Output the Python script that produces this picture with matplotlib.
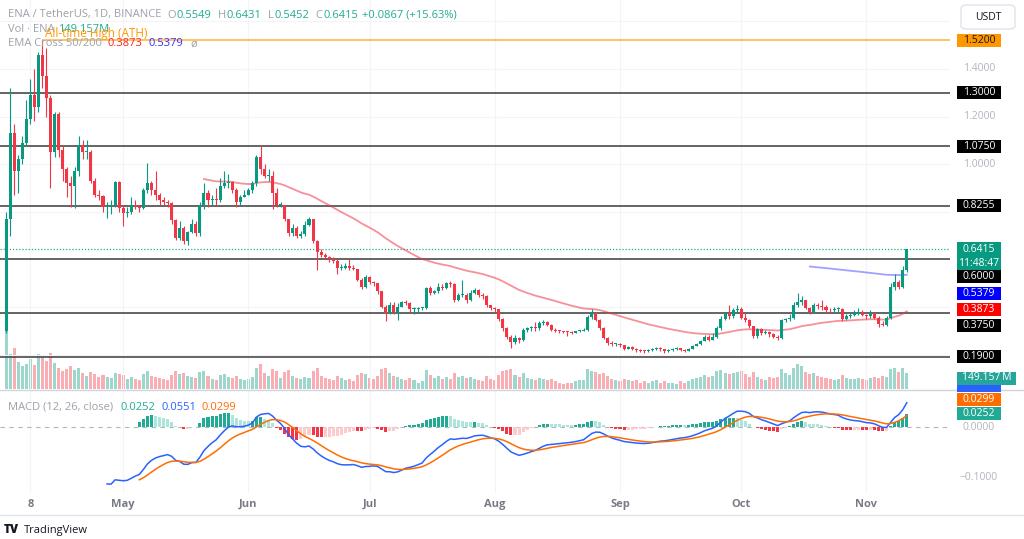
import numpy as np
import pandas as pd
import matplotlib
matplotlib.use("Agg")
import matplotlib.pyplot as plt
from matplotlib.patches import Rectangle, FancyBboxPatch
from matplotlib.lines import Line2D

plt.rcParams['font.family'] = ['Open Sans', 'DejaVu Sans']

# ---- data (ENA/USDT daily) ----
start_date = "2024-04-02"
first_open = 0.30
closes = [
    0.77, 1.13, 0.97, 1.02, 1.09, 1.19, 1.29, 1.24, 1.46, 1.37,
    1.28, 1.05, 1.21, 1.06, 0.98, 0.92, 0.91, 0.97, 1.08, 1.05,
    1.05, 0.93, 0.87, 0.865, 0.82, 0.825, 0.83, 0.925, 0.815, 0.795,
    0.80, 0.83, 0.825, 0.815, 0.89, 0.92, 0.89, 0.87, 0.85, 0.84,
    0.835, 0.765, 0.69, 0.73, 0.675, 0.715, 0.75, 0.71, 0.83, 0.88,
    0.85, 0.855, 0.85, 0.91, 0.92, 0.925, 0.89, 0.84, 0.86, 0.87,
    0.89, 0.92, 1.03, 0.98, 0.95, 0.95, 0.88, 0.83, 0.83, 0.77,
    0.71, 0.73, 0.70, 0.705, 0.745, 0.77, 0.675, 0.63, 0.62, 0.61,
    0.60, 0.595, 0.565, 0.565, 0.57, 0.565, 0.56, 0.515, 0.485, 0.525,
    0.505, 0.50, 0.465, 0.40, 0.375, 0.41, 0.38, 0.40, 0.42, 0.415,
    0.39, 0.39, 0.395, 0.395, 0.48, 0.46, 0.465, 0.485, 0.48, 0.50,
    0.495, 0.43, 0.45, 0.45, 0.43, 0.46, 0.47, 0.45, 0.445, 0.41,
    0.395, 0.39, 0.35, 0.31, 0.275, 0.253, 0.27, 0.26, 0.305, 0.31,
    0.315, 0.31, 0.333, 0.338, 0.325, 0.305, 0.30, 0.298, 0.296, 0.294,
    0.292, 0.297, 0.30, 0.305, 0.358, 0.375, 0.345, 0.312, 0.27, 0.248,
    0.243, 0.244, 0.238, 0.225, 0.232, 0.225, 0.218, 0.215, 0.213, 0.218,
    0.224, 0.228, 0.222, 0.215, 0.22, 0.223, 0.226, 0.22, 0.216, 0.225,
    0.236, 0.245, 0.258, 0.272, 0.263, 0.272, 0.31, 0.35, 0.37, 0.36,
    0.385, 0.392, 0.355, 0.345, 0.318, 0.276, 0.306, 0.29, 0.295, 0.285,
    0.275, 0.27, 0.345, 0.348, 0.353, 0.41, 0.42, 0.428, 0.395, 0.378,
    0.41, 0.405, 0.398, 0.386, 0.385, 0.39, 0.392, 0.35, 0.36, 0.365,
    0.372, 0.378, 0.366, 0.36, 0.373, 0.355, 0.328, 0.325, 0.353, 0.485,
    0.505, 0.485, 0.5549, 0.6415,
]
highs = [
    0.80, 1.32, 1.17, 1.04, 1.12, 1.27, 1.36, 1.40, 1.47, 1.52,
    1.49, 1.29, 1.22, 1.22, 1.08, 0.99, 0.95, 0.99, 1.12, 1.10,
    1.10, 1.06, 0.94, 0.89, 0.87, 0.84, 0.85, 0.93, 0.93, 0.83,
    0.82, 0.86, 0.85, 0.83, 0.90, 1.005, 0.93, 0.97, 0.88, 0.86,
    0.85, 0.84, 0.77, 0.76, 0.74, 0.72, 0.77, 0.76, 0.84, 0.92,
    0.89, 0.87, 0.90, 0.94, 0.97, 0.96, 0.93, 0.90, 0.87, 0.89,
    0.90, 0.93, 1.04, 1.08, 1.00, 0.98, 0.97, 0.90, 0.84, 0.83,
    0.77, 0.75, 0.74, 0.72, 0.76, 0.78, 0.77, 0.68, 0.645, 0.625,
    0.615, 0.61, 0.60, 0.58, 0.585, 0.60, 0.575, 0.56, 0.52, 0.535,
    0.53, 0.51, 0.50, 0.465, 0.41, 0.42, 0.42, 0.415, 0.425, 0.43,
    0.42, 0.40, 0.40, 0.40, 0.485, 0.49, 0.47, 0.50, 0.495, 0.505,
    0.51, 0.50, 0.46, 0.515, 0.46, 0.47, 0.48, 0.475, 0.46, 0.45,
    0.41, 0.40, 0.39, 0.355, 0.315, 0.28, 0.28, 0.275, 0.31, 0.315,
    0.32, 0.335, 0.34, 0.345, 0.34, 0.33, 0.31, 0.305, 0.30, 0.30,
    0.30, 0.30, 0.305, 0.31, 0.365, 0.39, 0.38, 0.35, 0.315, 0.275,
    0.255, 0.25, 0.25, 0.24, 0.235, 0.235, 0.228, 0.222, 0.22, 0.222,
    0.228, 0.232, 0.232, 0.225, 0.224, 0.228, 0.23, 0.228, 0.222, 0.228,
    0.24, 0.25, 0.262, 0.28, 0.28, 0.29, 0.32, 0.36, 0.38, 0.41,
    0.395, 0.41, 0.40, 0.375, 0.35, 0.32, 0.31, 0.31, 0.305, 0.30,
    0.29, 0.28, 0.35, 0.355, 0.37, 0.42, 0.46, 0.445, 0.43, 0.40,
    0.415, 0.415, 0.43, 0.41, 0.395, 0.40, 0.40, 0.395, 0.37, 0.38,
    0.385, 0.395, 0.385, 0.37, 0.385, 0.375, 0.36, 0.34, 0.36, 0.50,
    0.54, 0.515, 0.57, 0.6431,
]
lows = [
    0.29, 0.70, 0.87, 0.88, 1.00, 1.08, 1.17, 1.18, 1.22, 1.32,
    1.20, 0.90, 1.03, 1.03, 0.93, 0.86, 0.82, 0.815, 0.95, 1.02,
    1.02, 0.92, 0.86, 0.85, 0.80, 0.774, 0.79, 0.82, 0.80, 0.74,
    0.78, 0.79, 0.81, 0.80, 0.81, 0.88, 0.87, 0.85, 0.83, 0.83,
    0.82, 0.75, 0.68, 0.68, 0.665, 0.66, 0.71, 0.70, 0.70, 0.81,
    0.82, 0.83, 0.83, 0.84, 0.90, 0.90, 0.88, 0.82, 0.83, 0.86,
    0.87, 0.88, 0.91, 0.96, 0.94, 0.93, 0.81, 0.82, 0.82, 0.76,
    0.70, 0.70, 0.69, 0.69, 0.70, 0.74, 0.67, 0.555, 0.61, 0.60,
    0.59, 0.585, 0.54, 0.555, 0.56, 0.555, 0.555, 0.51, 0.475, 0.48,
    0.495, 0.49, 0.455, 0.395, 0.34, 0.37, 0.37, 0.345, 0.40, 0.41,
    0.38, 0.37, 0.38, 0.385, 0.39, 0.45, 0.455, 0.46, 0.47, 0.475,
    0.485, 0.42, 0.425, 0.44, 0.415, 0.425, 0.455, 0.44, 0.435, 0.40,
    0.385, 0.38, 0.34, 0.30, 0.265, 0.228, 0.245, 0.25, 0.255, 0.295,
    0.30, 0.30, 0.305, 0.325, 0.32, 0.30, 0.295, 0.29, 0.29, 0.278,
    0.286, 0.29, 0.295, 0.30, 0.30, 0.35, 0.34, 0.305, 0.265, 0.24,
    0.236, 0.236, 0.232, 0.22, 0.222, 0.22, 0.212, 0.21, 0.205, 0.21,
    0.215, 0.22, 0.215, 0.208, 0.21, 0.215, 0.218, 0.215, 0.21, 0.213,
    0.222, 0.235, 0.24, 0.255, 0.258, 0.26, 0.268, 0.305, 0.345, 0.35,
    0.355, 0.375, 0.35, 0.335, 0.31, 0.27, 0.27, 0.28, 0.285, 0.275,
    0.268, 0.262, 0.265, 0.335, 0.34, 0.35, 0.40, 0.41, 0.39, 0.37,
    0.375, 0.39, 0.385, 0.375, 0.375, 0.375, 0.38, 0.34, 0.345, 0.355,
    0.36, 0.365, 0.36, 0.35, 0.355, 0.35, 0.315, 0.318, 0.32, 0.35,
    0.47, 0.475, 0.48, 0.5452,
]
volumes_m = [
    780, 330, 380, 250, 210, 230, 280, 220, 330, 300,
    260, 340, 240, 200, 170, 190, 210, 180, 200, 150,
    120, 160, 140, 110, 130, 110, 100, 150, 140, 130,
    90, 110, 90, 80, 140, 170, 120, 110, 100, 90,
    80, 130, 170, 140, 150, 120, 110, 100, 160, 170,
    120, 90, 80, 130, 140, 110, 100, 120, 90, 80,
    90, 110, 200, 230, 150, 120, 190, 170, 100, 160,
    180, 120, 100, 90, 110, 100, 170, 200, 120, 100,
    90, 80, 120, 100, 80, 90, 70, 130, 150, 140,
    100, 90, 120, 190, 200, 150, 120, 110, 90, 80,
    100, 80, 60, 70, 180, 130, 100, 120, 90, 110,
    90, 150, 110, 120, 100, 110, 90, 80, 70, 120,
    90, 80, 130, 170, 180, 190, 130, 110, 150, 100,
    90, 80, 100, 90, 80, 90, 70, 60, 50, 60,
    60, 70, 80, 80, 190, 170, 160, 140, 150, 120,
    90, 80, 70, 90, 80, 70, 80, 60, 70, 60,
    70, 80, 60, 70, 60, 60, 50, 70, 60, 70,
    90, 100, 110, 130, 110, 120, 170, 180, 150, 140,
    150, 160, 170, 140, 110, 160, 110, 90, 80, 110,
    100, 110, 190, 150, 130, 200, 230, 210, 160, 140,
    150, 120, 110, 100, 90, 80, 90, 130, 100, 90,
    90, 100, 90, 80, 100, 110, 100, 120, 110, 190,
    200, 160, 200, 149.157,
]
levels = [1.30, 1.075, 0.8255, 0.60, 0.375, 0.19]
ath = 1.52
last_price = 0.6415

closes = np.array(closes)
opens = np.r_[first_open, closes[:-1]]
highs = np.maximum(np.array(highs), np.maximum(opens, closes))
lows = np.minimum(np.array(lows), np.minimum(opens, closes))
vols = np.array(volumes_m)
n = len(closes)
x = np.arange(n)
dates = pd.date_range(start_date, periods=n, freq="D")


def tv_ema(src, length):
    src = np.asarray(src, float)
    out = np.full(len(src), np.nan)
    first = np.where(~np.isnan(src))[0][0]
    seed = first + length - 1
    if seed >= len(src):
        return out
    out[seed] = src[first:seed + 1].mean()
    a = 2 / (length + 1)
    for k in range(seed + 1, len(src)):
        out[k] = a * src[k] + (1 - a) * out[k - 1]
    return out


ema50 = tv_ema(closes, 50)
ema200 = tv_ema(closes, 200)
macd = tv_ema(closes, 12) - tv_ema(closes, 26)
signal = tv_ema(macd, 9)
hist = macd - signal

# ---- colours ----
UP, DN = "#089981", "#f23645"
TEAL = "#22ab94"
GRAY_TXT = "#9ea1aa"
AXIS_TXT = "#b2b5be"
GRID = "#f2f4f8"

W, H = 1024, 539
fig = plt.figure(figsize=(W / 100, H / 100), dpi=100, facecolor="white")


def fx(px):
    return px / W


def fy(py):
    return 1 - py / H


ax = fig.add_axes([0, fy(389), fx(950), 389 / H])
axv = ax.twinx()
axm = fig.add_axes([0, fy(493), fx(950), (493 - 390) / H])

xlim = (-1.5, 233.7)
for a in (ax, axv, axm):
    a.set_xlim(*xlim)
    for s in a.spines.values():
        s.set_visible(False)
    a.set_yticks([])
ax.set_xticks([])
axv.set_xticks([])
ax.set_ylim(0.055, 1.69)
axv.set_ylim(0, 149.157 / 16 * 389)
axm.set_ylim(-0.132, 0.074)
ax.set_zorder(2)
axv.set_zorder(1)
ax.patch.set_visible(False)

# month ticks
tick_idx = [i for i, d in enumerate(dates) if d.day == 1 or (d.month == 4 and d.day == 8)]
tick_lab = ["8" if dates[i].day == 8 else dates[i].strftime("%b") for i in tick_idx]
axm.set_xticks(tick_idx)
axm.set_xticklabels(tick_lab, color="#787b86", fontsize=8, fontweight="bold")
axm.tick_params(axis="x", length=0, pad=4)
for t in tick_idx:
    ax.axvline(t, color=GRID, lw=0.8, zorder=0)
    axm.axvline(t, color=GRID, lw=0.8, zorder=0)
for g in [0.2, 0.4, 0.8, 1.0, 1.2, 1.4, 1.6]:
    ax.axhline(g, color=GRID, lw=0.8, zorder=0)

# volume
up = closes >= opens
vcol = np.where(up, UP, DN)
axv.bar(x, vols, width=0.75, color=vcol, alpha=0.4, linewidth=0)

# level lines
for lv in levels:
    ax.axhline(lv, color="#4a4a4a", lw=1.2, zorder=1)
ax.hlines(ath, 9, xlim[1], color="#ffb74d", lw=1.2, zorder=1)
ax.axhline(last_price, color=TEAL, lw=0.9, ls=(0, (1, 1.5)), zorder=1)

# EMAs
ax.plot(x, ema50, color="#f23645", alpha=0.55, lw=1.3, zorder=2)
ax.plot(x, ema200, color="#3030ff", alpha=0.45, lw=1.3, zorder=2)

# candles
ccol = np.where(up, UP, DN)
ax.vlines(x, lows, highs, colors=ccol, lw=0.8, zorder=3)
ax.bar(x, np.maximum(np.abs(closes - opens), 0.004), bottom=np.minimum(opens, closes),
       width=0.75, color=ccol, linewidth=0, zorder=4)

# MACD pane
hcol = []
for k in range(n):
    h = hist[k]
    prev = hist[k - 1] if k > 0 else np.nan
    if np.isnan(h):
        hcol.append("none")
    elif h >= 0:
        hcol.append("#22ab94" if (np.isnan(prev) or h > prev) else "#ace5dc")
    else:
        hcol.append("#f23645" if (np.isnan(prev) or h < prev) else "#fccbcd")
axm.axhline(0, color="#b2b5be", lw=0.8, ls=(0, (4, 4)), zorder=1)
axm.bar(x, np.nan_to_num(hist), width=0.75, color=hcol, linewidth=0, zorder=2)
axm.plot(x, macd, color="#2962ff", lw=1.1, zorder=3)
axm.plot(x, signal, color="#ff6d00", lw=1.1, zorder=3)

# pane separators
fig.add_artist(Line2D([0, 1], [fy(389.5)] * 2, color="#d1d4dc", lw=1))
fig.add_artist(Line2D([0, 1], [fy(515)] * 2, color="#e0e3eb", lw=1))

fig.canvas.draw()
renderer = fig.canvas.get_renderer()


def ypix(axis, val):
    # data value -> pixel from top
    return H - axis.transData.transform((0, val))[1]


def price_box(ycen, txt, fc, tc="white", width=44, height=13):
    fig.add_artist(Rectangle((fx(957), fy(ycen + height / 2)), width / W, height / H,
                             transform=fig.transFigure, fc=fc, ec="none", zorder=5))
    fig.text(fx(957 + width / 2), fy(ycen), txt, ha="center", va="center",
             fontsize=7.5, color=tc, zorder=6)


def tick_txt(ycen, txt):
    fig.text(fx(979), fy(ycen), txt, ha="center", va="center", fontsize=7.5, color=AXIS_TXT, zorder=4)


for v in [1.4, 1.2, 1.0]:
    tick_txt(ypix(ax, v), f"{v:.4f}")
tick_txt(ypix(axm, 0.0), "0.0000")
tick_txt(ypix(axm, -0.1), "\u22120.1000")

price_box(ypix(ax, ath), "1.5200", "#ff9800", tc="#131722")
price_box(ypix(ax, 1.30), "1.3000", "black")
price_box(ypix(ax, 1.075), "1.0750", "black")
price_box(ypix(ax, 0.8255), "0.8255", "black")
# current price box (two lines)
cp = ypix(ax, last_price)
fig.add_artist(Rectangle((fx(957), fy(cp + 22)), 44 / W, 29 / H, transform=fig.transFigure,
                         fc="#089981", ec="none", zorder=5))
fig.text(fx(979), fy(cp), "0.6415", ha="center", va="center", fontsize=7.5, color="white", zorder=6)
fig.text(fx(979), fy(cp + 14), "11:48:47", ha="center", va="center", fontsize=7.5, color="white", zorder=6)
price_box(ypix(ax, 0.60) + 17.6, "0.6000", "black")
price_box(ypix(ax, 0.5379) + 19, "0.5379", "#0000ff")
price_box(ypix(ax, 0.3873), "0.3873", "#ff0000")
price_box(ypix(ax, 0.375) + 13, "0.3750", "black")
price_box(ypix(ax, 0.19), "0.1900", "black")
price_box(385, "", "#2962ff")
price_box(378, "149.157\u2009M", "#26a69a", width=59)
price_box(399, "0.0299", "#ff6d00")
price_box(413, "0.0252", TEAL)


# legend rows
def chain(x0, y0, parts, size=8):
    xx = x0
    for txt, col, gap in parts:
        t = fig.text(fx(xx), fy(y0), txt, color=col, fontsize=size, ha="left", va="center", zorder=7)
        xx += t.get_window_extent(renderer).width + gap


chain(8, 15, [("ENA / TetherUS, 1D, BINANCE", GRAY_TXT, 6), ("O", GRAY_TXT, 1), ("0.5549", TEAL, 6),
              ("H", GRAY_TXT, 1), ("0.6431", TEAL, 6), ("L", GRAY_TXT, 1), ("0.5452", TEAL, 6),
              ("C", GRAY_TXT, 1), ("0.6415", TEAL, 4), ("+0.0867 (+15.63%)", TEAL, 0)])
chain(8, 30, [("Vol \u00b7 ENA", GRAY_TXT, 3), ("149.157M", TEAL, 0)])
chain(8, 44, [("EMA Cross 50/200", GRAY_TXT, 6), ("0.3873", "#ff2020", 6),
              ("0.5379", "#3030ff", 7), ("\u00f8", GRAY_TXT, 0)])
fig.text(fx(45), fy(33), "All-time High (ATH)", color="#ff9800", fontsize=8.5, ha="left", va="center", zorder=8)
chain(8, 407, [("MACD (12, 26, close)", GRAY_TXT, 7), ("0.0252", TEAL, 6),
               ("0.0551", "#2962ff", 6), ("0.0299", "#ff6d00", 0)])

# USDT button
fig.add_artist(FancyBboxPatch((fx(961), fy(29)), 54 / W, 24 / H, boxstyle="round,pad=0,rounding_size=0.006",
                              transform=fig.transFigure, fc="white", ec="#e0e3eb", lw=1))
fig.text(fx(988), fy(17), "USDT", ha="center", va="center", fontsize=7.5, color="#131722")

# TradingView logo
fig.text(fx(4), fy(530), "TV", ha="left", va="center", fontsize=8.5, fontweight="heavy", color="#131722")
fig.text(fx(24), fy(530), "TradingView", ha="left", va="center", fontsize=8, color="#131722")

fig.savefig("out.png", dpi=100, facecolor="white")
